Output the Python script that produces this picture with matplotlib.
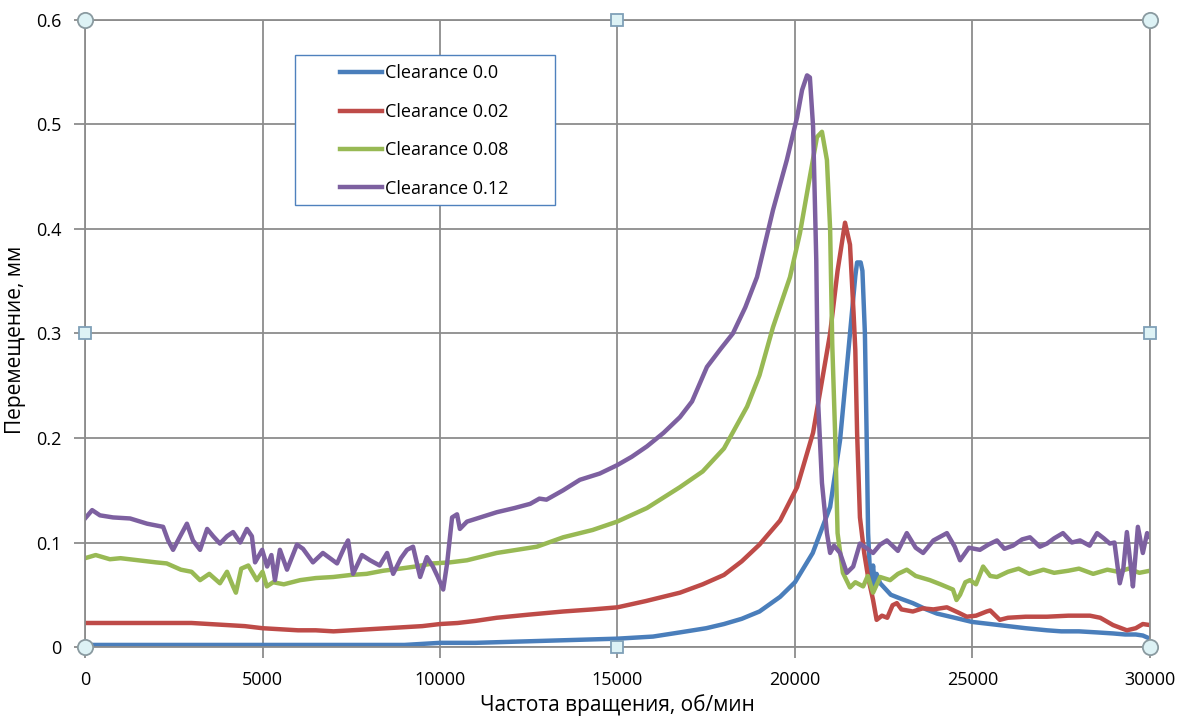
import matplotlib
matplotlib.use("Agg")
import matplotlib.pyplot as plt
from matplotlib.patches import Rectangle

plt.rcParams["font.family"] = ["Open Sans", "DejaVu Sans"]

# Clearance 0.0
rpm_c00 = [0, 3000, 6000, 9000, 9500, 10000, 11000, 12000, 13000, 14000,
           15000, 16000, 16760, 17500, 18000, 18500, 19000, 19580, 20000, 20500,
           20990, 21270, 21550, 21700, 21750, 21850, 21900, 21970, 22020, 22060,
           22100, 22150, 22200, 22250, 22300, 22400, 22700, 23000, 23320, 23700,
           24000, 24500, 24990, 25500, 26000, 26500, 27100, 27500, 28000, 28500,
           28960, 29300, 29600, 29800, 30000]
disp_c00 = [.002, .002, .002, .002, .003, .004, .004, .005, .006, .007,
            .008, .010, .014, .018, .022, .027, .034, .048, .062, .09,
            .134, .198, .30, .355, .368, .368, .36, .30, .20, .109,
            .08, .06, .078, .058, .07, .061, .05, .046, .042, .036,
            .032, .028, .024, .022, .020, .018, .016, .015, .015, .014,
            .013, .012, .012, .011, .008]

# Clearance 0.02
rpm_c02 = [0, 1000, 2000, 3000, 3500, 4000, 4500, 5000, 5500, 6000,
           6500, 7000, 7500, 8000, 8500, 9000, 9500, 10000, 10500, 11000,
           11600, 12500, 13470, 14300, 15000, 15800, 16760, 17400, 18000, 18500,
           19000, 19580, 20060, 20510, 20990, 21200, 21410, 21550, 21650, 21700,
           21750, 21830, 21950, 22060, 22200, 22300, 22450, 22600, 22750, 22870,
           23000, 23320, 23600, 23900, 24280, 24600, 24840, 25100, 25400, 25500,
           25770, 26000, 26500, 27100, 27700, 28310, 28600, 28960, 29350, 29600,
           29800, 30000]
disp_c02 = [.023, .023, .023, .023, .022, .021, .020, .018, .017, .016,
            .016, .015, .016, .017, .018, .019, .020, .022, .023, .025,
            .028, .031, .034, .036, .038, .044, .052, .060, .069, .082,
            .098, .121, .153, .205, .30, .36, .406, .385, .32, .284,
            .205, .124, .09, .067, .045, .026, .03, .028, .04, .042,
            .036, .034, .037, .036, .038, .033, .029, .03, .034, .035,
            .026, .028, .029, .029, .03, .030, .028, .021, .016, .018,
            .022, .021]

# Clearance 0.08
rpm_c08 = [0, 300, 700, 1000, 1500, 2000, 2300, 2700, 3000, 3240,
           3500, 3800, 4000, 4170, 4250, 4400, 4600, 4840, 5000, 5120,
           5300, 5600, 6060, 6500, 6990, 7500, 7930, 8400, 8870, 9300,
           9800, 10280, 10760, 11600, 12730, 13470, 14300, 14990, 15830, 16760,
           17400, 18000, 18650, 19000, 19380, 19860, 20140, 20420, 20620, 20760,
           20900, 20990, 21050, 21130, 21200, 21350, 21550, 21700, 21920, 22050,
           22200, 22400, 22680, 22900, 23150, 23400, 23800, 24100, 24450, 24550,
           24650, 24800, 24930, 25100, 25300, 25500, 25690, 26000, 26300, 26600,
           27000, 27300, 27700, 28000, 28400, 28800, 29100, 29400, 29700, 30000]
disp_c08 = [.085, .088, .084, .085, .083, .081, .080, .074, .072, .064,
            .070, .061, .072, .058, .052, .075, .078, .064, .072, .058,
            .062, .060, .064, .066, .067, .069, .070, .073, .075, .077,
            .080, .081, .083, .090, .096, .105, .112, .120, .133, .153,
            .168, .190, .23, .26, .306, .354, .396, .45, .488, .493,
            .466, .40, .29, .205, .109, .071, .057, .062, .058, .068,
            .052, .067, .064, .07, .074, .068, .064, .06, .055, .045,
            .05, .062, .064, .06, .077, .068, .067, .072, .075, .070,
            .074, .071, .073, .075, .070, .074, .072, .075, .071, .073]

# Clearance 0.12
rpm_c12 = [0, 200, 420, 790, 1270, 1750, 2200, 2340, 2480, 2680,
           2870, 3040, 3240, 3440, 3610, 3800, 4000, 4170, 4370, 4560,
           4700, 4790, 4990, 5130, 5250, 5350, 5490, 5690, 5970, 6140,
           6420, 6700, 6900, 7100, 7300, 7410, 7550, 7800, 8030, 8300,
           8510, 8680, 8900, 9070, 9240, 9440, 9630, 9800, 9940, 10090,
           10200, 10340, 10480, 10560, 10760, 11130, 11600, 12100, 12540, 12800,
           13000, 13470, 13940, 14500, 14990, 15400, 15830, 16300, 16760, 17100,
           17520, 17900, 18250, 18600, 18930, 19380, 19770, 20060, 20200, 20340,
           20420, 20510, 20600, 20650, 20760, 20900, 20990, 21100, 21270, 21460,
           21640, 21830, 22000, 22200, 22400, 22590, 22900, 23150, 23400, 23610,
           23900, 24280, 24500, 24650, 24900, 25210, 25450, 25690, 25900, 26140,
           26400, 26620, 26900, 27100, 27300, 27550, 27800, 28030, 28300, 28510,
           28700, 28870, 29000, 29150, 29250, 29350, 29450, 29520, 29660, 29800,
           29920, 30000]
disp_c12 = [.123, .131, .126, .124, .123, .118, .115, .102, .093, .106,
            .118, .102, .093, .113, .106, .099, .106, .110, .100, .113,
            .106, .081, .093, .077, .088, .064, .093, .074, .098, .094,
            .081, .090, .085, .080, .095, .102, .070, .088, .083, .078,
            .090, .070, .085, .093, .096, .067, .086, .077, .067, .055,
            .080, .124, .127, .113, .120, .124, .129, .133, .137, .142,
            .141, .150, .160, .166, .174, .182, .192, .205, .220, .235,
            .268, .285, .30, .325, .354, .418, .466, .507, .533, .547,
            .545, .498, .37, .236, .157, .109, .09, .097, .09, .071,
            .077, .099, .095, .09, .098, .102, .092, .109, .095, .09,
            .102, .109, .096, .083, .095, .093, .098, .102, .094, .097,
            .103, .105, .096, .099, .104, .109, .100, .102, .097, .109,
            .104, .099, .100, .061, .075, .110, .080, .058, .115, .09,
            .109, .105]

labels = ["Clearance 0.0", "Clearance 0.02", "Clearance 0.08", "Clearance 0.12"]
colors = ["#4A7EBB", "#BE4B48", "#98B954", "#7D60A0"]
x_ticks = [0, 5000, 10000, 15000, 20000, 25000, 30000]
y_ticks = [0, 0.1, 0.2, 0.3, 0.4, 0.5, 0.6]
y_tick_labels = ["0", "0.1", "0.2", "0.3", "0.4", "0.5", "0.6"]

grid_color = "#8C8C8C"

fig = plt.figure(figsize=(11.86, 7.21), dpi=100)
ax = fig.add_axes([0.0717, 0.1026, 0.8979, 0.8697])

series = [(rpm_c00, disp_c00), (rpm_c02, disp_c02), (rpm_c08, disp_c08), (rpm_c12, disp_c12)]
for (xs, ys), lab, col in zip(series, labels, colors):
    ax.plot(xs, ys, color=col, linewidth=3.2, label=lab, solid_joinstyle="round")

ax.set_xlim(0, 30000)
ax.set_ylim(0, 0.6)
ax.set_xticks(x_ticks)
ax.set_xticklabels([str(t) for t in x_ticks])
ax.set_yticks(y_ticks)
ax.set_yticklabels(y_tick_labels)
ax.grid(True, color=grid_color, linewidth=1.3)
ax.set_axisbelow(True)
for sp in ax.spines.values():
    sp.set_color(grid_color)
    sp.set_linewidth(1.3)
ax.tick_params(axis="both", direction="out", length=8, width=1.3, color=grid_color,
               labelsize=13, pad=9)

ax.set_xlabel("Частота вращения, об/мин", fontsize=15, labelpad=4)
ax.set_ylabel("Перемещение, мм", fontsize=15, va="center")
ax.yaxis.set_label_coords(-0.0657, 0.49)

# legend box drawn separately (wider padding than the legend frame allows)
box = Rectangle((0.197, 0.705), 0.244, 0.239, transform=ax.transAxes,
                facecolor="white", edgecolor="#4F81BD", linewidth=1.0, zorder=8)
ax.add_patch(box)
leg = ax.legend(loc="upper left", bbox_to_anchor=(0.2394, 0.929), fontsize=13,
                handlelength=2.3, handletextpad=0.2, labelspacing=1.13,
                borderpad=0, borderaxespad=0, frameon=False)
leg.set_zorder(9)

# chart selection handles
corner_x = [0, 0, 30000, 30000]
corner_y = [0, 0.6, 0.6, 0]
mid_x = [15000, 15000, 0, 30000]
mid_y = [0.6, 0, 0.3, 0.3]
ax.plot(corner_x, corner_y, "o", markersize=11, markerfacecolor="#DDF2F5",
        markeredgecolor="#8A9AA0", markeredgewidth=1.3, clip_on=False, zorder=10,
        linestyle="none")
ax.plot(mid_x, mid_y, "s", markersize=9, markerfacecolor="#DDF2F5",
        markeredgecolor="#7FA0B8", markeredgewidth=1.3, clip_on=False, zorder=10,
        linestyle="none")

fig.savefig("out.png", dpi=100)
